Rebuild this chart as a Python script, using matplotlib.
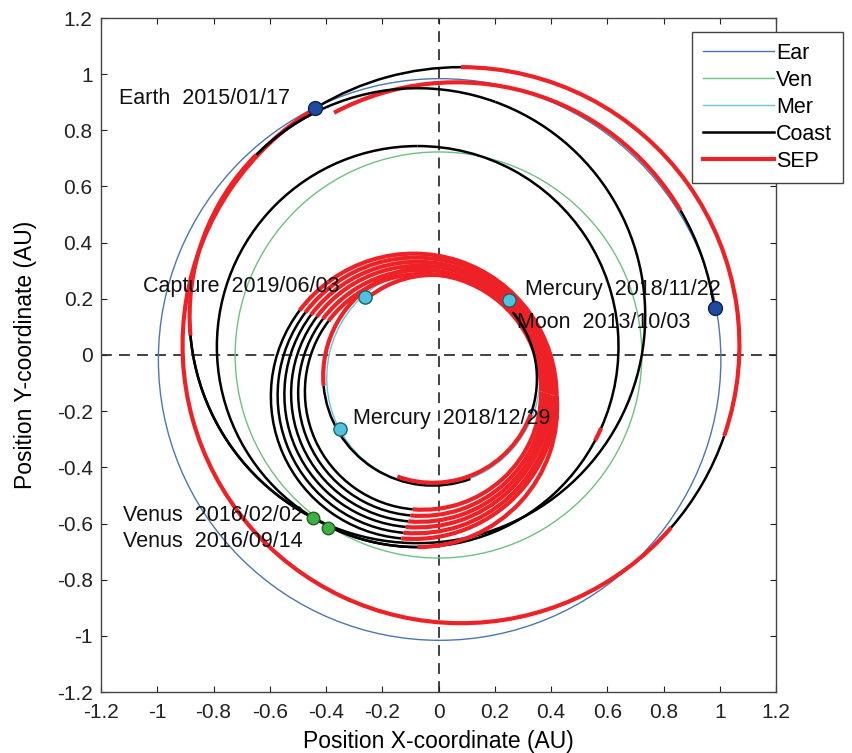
import numpy as np
import matplotlib
matplotlib.use('Agg')
import matplotlib.pyplot as plt
from matplotlib.patches import Arc, Ellipse
from matplotlib.lines import Line2D

plt.rcParams['font.family'] = ['Liberation Sans', 'DejaVu Sans']

# ---- planet orbits (AU)
earth_center = (0.004, -0.016)
earth_a = 1.0
venus_center = (0.0, 0.0)
venus_a = 0.723
mercury_center = (-0.018, -0.078)
mercury_width = 0.774
mercury_height = 0.758
mercury_tilt = 77

# ---- trajectory rings: centre x, centre y, radius (AU)
ring_names = ['launch', 'outer', 'earth_venus', 'venus_res', 'trans',
              's0', 's1', 's2', 's3', 's4', 's5', 'm1', 'm2']
ring_cx = [0.063, 0.080, -0.075, -0.074, -0.074,
           -0.088, -0.081, -0.075, -0.068, -0.061, -0.055, -0.020, -0.020]
ring_cy = [0.046, 0.035, 0.140, 0.030, -0.188,
           -0.147, -0.144, -0.141, -0.138, -0.135, -0.131, -0.075, -0.085]
ring_r = [0.925, 0.990, 0.810, 0.714, 0.496,
          0.508, 0.491, 0.473, 0.456, 0.438, 0.420, 0.390, 0.370]

# ---- trajectory arcs: ring, start angle, end angle (deg), mode
seg_ring = ['launch', 'launch',
            'outer', 'outer', 'outer', 'outer',
            'earth_venus', 'earth_venus', 'earth_venus',
            'venus_res', 'venus_res', 'venus_res', 'venus_res',
            'trans',
            's0', 's0', 's0', 's1', 's1', 's1', 's2', 's2', 's2',
            's3', 's3', 's3', 's4', 's4', 's4', 's5', 's5', 's5',
            'm1', 'm1', 'm2', 'm2', 'm2']
seg_start = [7.7, 30.5,
             121, 319, 341, 450,
             116, 430, 135,
             243, 336, 450, 332,
             270,
             0, 143, 265, 0, 143, 265, 0, 143, 265,
             0, 143, 265, 0, 143, 265, 0, 143, 265,
             46, 185, 250, 340, 400]
seg_end = [30.5, 118,
           319, 341, 450, 481,
           430, 603, 185,
           336, 450, 630, 336,
           364.8,
           143, 265, 360, 143, 265, 360, 143, 265, 360,
           143, 265, 360, 143, 265, 360, 143, 265, 360,
           185, 290, 340, 400, 488]
seg_mode = ['coast', 'sep',
            'sep', 'coast', 'sep', 'coast',
            'coast', 'coast', 'sep',
            'coast', 'coast', 'coast', 'sep',
            'sep',
            'sep', 'coast', 'sep', 'sep', 'coast', 'sep', 'sep', 'coast', 'sep',
            'sep', 'coast', 'sep', 'sep', 'coast', 'sep', 'sep', 'coast', 'sep',
            'sep', 'coast', 'sep', 'coast', 'sep']

# ---- event markers
earth_x = [-0.44, 0.983]
earth_y = [0.88, 0.167]
venus_x = [-0.445, -0.393]
venus_y = [-0.58, -0.616]
mercury_x = [0.251, -0.35, -0.261]
mercury_y = [0.196, -0.264, 0.207]

# ---- event labels
label_text = ['Earth  2015/01/17', 'Capture  2019/06/03', 'Mercury  2018/11/22',
              'Moon  2013/10/03', 'Mercury  2018/12/29', 'Venus  2016/02/02',
              'Venus  2016/09/14']
label_x = [-1.135, -1.05, 0.308, 0.278, -0.304, -1.122, -1.122]
label_y = [0.915, 0.245, 0.232, 0.115, -0.225, -0.57, -0.665]

ticks = [-1.2, -1, -0.8, -0.6, -0.4, -0.2, 0, 0.2, 0.4, 0.6, 0.8, 1, 1.2]
tick_labels = ['-1.2', '-1', '-0.8', '-0.6', '-0.4', '-0.2', '0',
               '0.2', '0.4', '0.6', '0.8', '1', '1.2']

# colours
c_earth = '#4d76b0'
c_venus = '#6cc27e'
c_mercury = '#66c6d6'
c_coast = 'black'
c_sep = '#ee2226'


fig = plt.figure(figsize=(8.52, 7.53), dpi=100)
ax = fig.add_axes([101/852, 61/753, 675/852, 674/753])
ax.set_xlim(-1.2, 1.2)
ax.set_ylim(-1.2, 1.2)

# planet orbits
ax.add_patch(Ellipse(earth_center, 2*earth_a, 2*earth_a, fill=False,
                     ec=c_earth, lw=1.0, zorder=1))
ax.add_patch(Ellipse(venus_center, 2*venus_a, 2*venus_a, fill=False,
                     ec=c_venus, lw=1.0, zorder=1))
ax.add_patch(Ellipse(mercury_center, mercury_width, mercury_height,
                     angle=mercury_tilt, fill=False, ec=c_mercury, lw=1.0, zorder=1))

# sun-centred cross
ax.axhline(0, color='#333333', lw=1.3, dashes=(6, 4), zorder=0.5)
ax.axvline(0, color='#333333', lw=1.3, dashes=(6, 4), zorder=0.5)

# trajectory
for name, a1, a2, mode in zip(seg_ring, seg_start, seg_end, seg_mode):
    i = ring_names.index(name)
    d = 2*ring_r[i]
    if mode == 'sep':
        col, lw = c_sep, 3.0
    else:
        col, lw = c_coast, 1.8
    ax.add_patch(Arc((ring_cx[i], ring_cy[i]), d, d, theta1=a1, theta2=a2,
                     ec=col, lw=lw, zorder=3))

# markers
ax.plot(earth_x, earth_y, 'o', ms=10, mfc='#1f4a9e', mec='#0b2255', mew=1, ls='none', zorder=5)
ax.plot(venus_x, venus_y, 'o', ms=9, mfc='#3fae45', mec='#1e6322', mew=1, ls='none', zorder=5)
ax.plot(mercury_x, mercury_y, 'o', ms=9.5, mfc='#52c2dc', mec='#1c5f70', mew=1, ls='none', zorder=5)

for s, x, y in zip(label_text, label_x, label_y):
    ax.text(x, y, s, fontsize=15.5, ha='left', va='center', color='#111111', zorder=6)

ax.set_xticks(ticks)
ax.set_yticks(ticks)
ax.set_xticklabels(tick_labels)
ax.set_yticklabels(tick_labels)
ax.tick_params(direction='in', length=4, width=0.8, top=True, right=True,
               labelsize=15, colors='#222222')
ax.tick_params(axis='x', pad=8)
ax.tick_params(axis='y', pad=6)
for sp in ax.spines.values():
    sp.set_color('#444444')
    sp.set_linewidth(1.0)

ax.set_xlabel('Position X-coordinate (AU)', fontsize=16.5, labelpad=6)
ax.set_ylabel('Position Y-coordinate (AU)', fontsize=16.5, labelpad=14)

handles = [Line2D([], [], color=c_earth, lw=1.0),
           Line2D([], [], color=c_venus, lw=1.0),
           Line2D([], [], color=c_mercury, lw=1.0),
           Line2D([], [], color=c_coast, lw=1.8),
           Line2D([], [], color=c_sep, lw=3.0)]
leg = ax.legend(handles, ['Ear', 'Ven', 'Mer', 'Coast', 'SEP'],
                loc='upper left', bbox_to_anchor=(692/852, 1 - 32/753),
                bbox_transform=fig.transFigure, borderaxespad=0,
                fontsize=15.5, handlelength=3.3, handletextpad=0.1,
                labelspacing=0.28, borderpad=0.5, fancybox=False,
                framealpha=1, edgecolor='#444444')
leg.get_frame().set_linewidth(1.0)
leg.set_zorder(10)

fig.savefig('out.png', dpi=100)
